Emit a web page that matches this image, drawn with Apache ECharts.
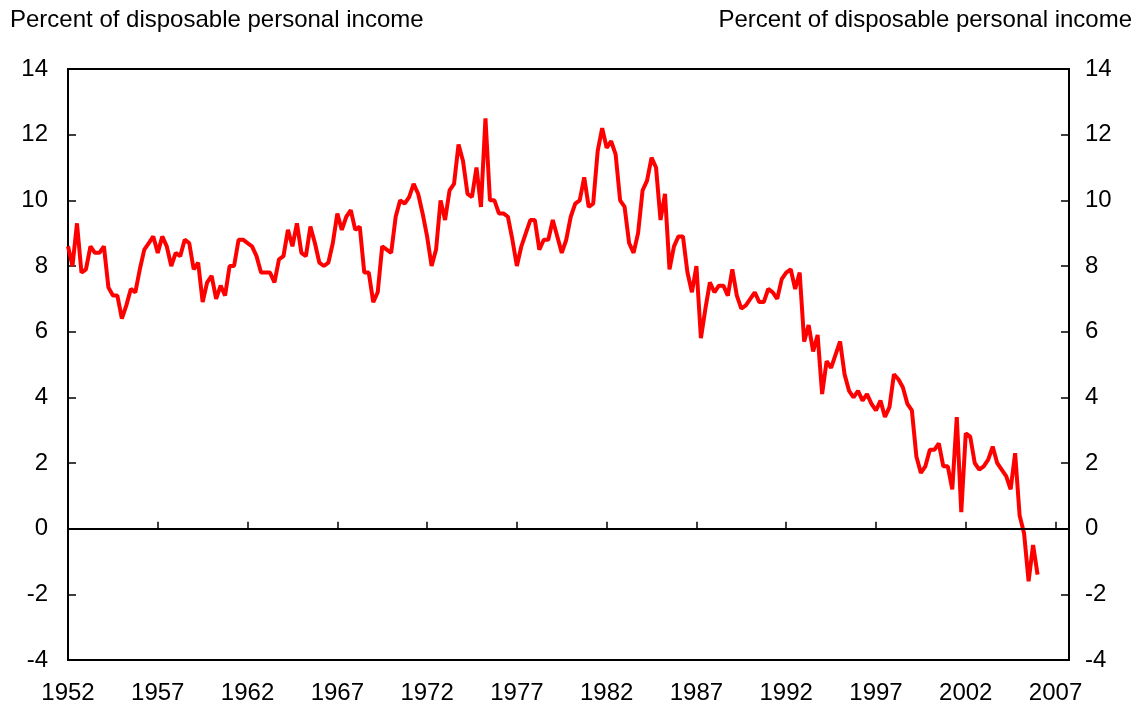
<!doctype html>
<html>
<head>
    <meta charset="utf-8">
    <title>Personal saving rate</title>
    <script src="https://cdn.jsdelivr.net/npm/echarts@6/dist/echarts.min.js"></script>
</head>
<style>
    html, body { margin: 0; padding: 0; background: #fff; }
    #chart { width: 1142px; height: 711px; }
</style>
<body>
<div id="chart"></div>
<script>
  // quarterly, starting 1952 Q1
  var startYear = 1952;
  var savingRate = [
    8.6, 8.0, 9.3, 7.8,   7.9, 8.6, 8.4, 8.4,   8.6, 7.35, 7.1, 7.1,  6.4, 6.8, 7.3, 7.2,
    7.9, 8.5, 8.7, 8.9,   8.4, 8.9, 8.6, 8.0,   8.4, 8.3, 8.8, 8.7,   7.9, 8.1, 6.9, 7.5,
    7.7, 7.0, 7.4, 7.1,   8.0, 8.0, 8.8, 8.8,   8.7, 8.6, 8.3, 7.8,   7.8, 7.8, 7.5, 8.2,
    8.3, 9.1, 8.6, 9.3,   8.4, 8.3, 9.2, 8.7,   8.1, 8.0, 8.1, 8.7,   9.6, 9.1, 9.5, 9.7,
    9.1, 9.2, 7.8, 7.8,   6.9, 7.2, 8.6, 8.5,   8.4, 9.5, 10.0, 9.9,  10.1, 10.5, 10.2, 9.6,
    8.9, 8.0, 8.5, 10.0,  9.4, 10.3, 10.5, 11.7, 11.2, 10.2, 10.1, 11.0, 9.8, 12.5, 10.0, 10.0,
    9.6, 9.6, 9.5, 8.8,   8.0, 8.6, 9.0, 9.4,   9.4, 8.5, 8.8, 8.8,   9.4, 8.9, 8.4, 8.8,
    9.5, 9.9, 10.0, 10.7, 9.8, 9.9, 11.5, 12.2, 11.6, 11.8, 11.4, 10.0, 9.8, 8.7, 8.4, 9.0,
    10.3, 10.6, 11.3, 11.0, 9.4, 10.2, 7.9, 8.6, 8.9, 8.9, 7.8, 7.2,  8.0, 5.8, 6.7, 7.5,
    7.2, 7.4, 7.4, 7.1,   7.9, 7.1, 6.7, 6.8,   7.0, 7.2, 6.9, 6.9,   7.3, 7.2, 7.0, 7.6,
    7.8, 7.9, 7.3, 7.8,   5.7, 6.2, 5.4, 5.9,   4.1, 5.1, 4.9, 5.3,   5.7, 4.7, 4.2, 4.0,
    4.2, 3.9, 4.1, 3.8,   3.6, 3.9, 3.4, 3.7,   4.7, 4.55, 4.3, 3.8,  3.6, 2.2, 1.7, 1.9,
    2.4, 2.4, 2.6, 1.9,   1.9, 1.2, 3.4, 0.5,   2.9, 2.8, 2.0, 1.8,   1.9, 2.1, 2.5, 2.0,
    1.8, 1.6, 1.2, 2.3,   0.4, -0.15, -1.6, -0.5, -1.4
  ];
  var yTitle = 'Percent of disposable personal income';

  var seriesData = savingRate.map(function (v, i) {
    return [startYear + i / 4, v];
  });

  var font = "'Liberation Sans', Arial, sans-serif";
  var black = '#000';

  var yAxisBase = {
    type: 'value',
    min: -4,
    max: 14,
    interval: 2,
    splitLine: { show: false },
    axisLine: { show: true, lineStyle: { color: black, width: 2 } },
    axisTick: { show: true, inside: true, length: 8, lineStyle: { color: black, width: 1.5 } },
    axisLabel: { color: black, fontSize: 24, fontFamily: font }
  };

  var myChart = echarts.init(document.getElementById('chart'));
  var option = {
    animation: false,
    backgroundColor: '#fff',
    title: [
      { text: yTitle, left: 5, top: 3,
        textStyle: { fontSize: 24, fontWeight: 'normal', color: black, fontFamily: font } },
      { text: yTitle, right: 5, top: 3,
        textStyle: { fontSize: 24, fontWeight: 'normal', color: black, fontFamily: font } }
    ],
    grid: {
      left: 68, right: 73, top: 69, bottom: 51,
      show: true, borderColor: black, borderWidth: 2
    },
    xAxis: {
      type: 'value',
      min: 1952,
      max: 2007.75,
      interval: 5,
      splitLine: { show: false },
      axisLine: { show: true, lineStyle: { color: black, width: 2 } },
      axisTick: { show: true, inside: true, length: 7, lineStyle: { color: black, width: 1.5 } },
      axisLabel: {
        color: black, fontSize: 24, fontFamily: font, margin: 21,
        formatter: function (v) {
          return Math.abs(v - Math.round(v)) < 1e-6 && (Math.round(v) - 1952) % 5 === 0 ? String(Math.round(v)) : '';
        }
      }
    },
    yAxis: [
      Object.assign({}, yAxisBase, { position: 'left',
        axisLabel: Object.assign({}, yAxisBase.axisLabel, { margin: 20 }) }),
      Object.assign({}, yAxisBase, { position: 'right',
        axisLabel: Object.assign({}, yAxisBase.axisLabel, { margin: 16 }) })
    ],
    series: [
      {
        type: 'line',
        data: [],
        z: 1,
        silent: true,
        markLine: {
          silent: true,
          symbol: 'none',
          label: { show: false },
          lineStyle: { color: black, width: 2, type: 'solid' },
          data: [{ yAxis: 0 }]
        }
      },
      {
        type: 'line',
        data: seriesData,
        z: 3,
        symbol: 'none',
        lineStyle: { color: '#ff0000', width: 4 },
        itemStyle: { color: '#ff0000' }
      }
    ]
  };

  myChart.setOption(option);
</script>
</body>
</html>
